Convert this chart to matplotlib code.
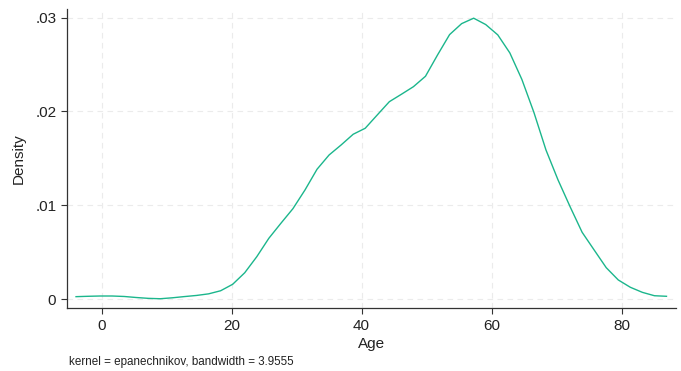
import numpy as np
import matplotlib
matplotlib.use("Agg")
import matplotlib.pyplot as plt

plt.rcParams['font.family'] = ['Liberation Sans', 'DejaVu Sans']

# kdensity evaluation grid (50 points) and estimated density
age_min, age_max = -3.92, 86.9
age = np.linspace(age_min, age_max, 50)
density = [0.00025, 0.00029, 0.00032, 0.00032, 0.00027, 0.00016, 0.00007, 0.00003,
           0.00013, 0.00026, 0.00038, 0.00055, 0.00088, 0.00157, 0.0028, 0.00451,
           0.00647, 0.00807, 0.00963, 0.01162, 0.01383, 0.01535, 0.01642, 0.01756,
           0.0182, 0.01962, 0.02103, 0.02182, 0.02263, 0.02374, 0.02601, 0.02818,
           0.02935, 0.02993, 0.02925, 0.02815, 0.02623, 0.0234, 0.01988, 0.01588,
           0.01269, 0.00984, 0.00711, 0.00522, 0.00334, 0.00203, 0.00125, 0.00071,
           0.00035, 0.00029]

xticks = [0, 20, 40, 60, 80]
yticks = [0, 0.01, 0.02, 0.03]
ytick_labels = ["0", ".01", ".02", ".03"]
note = "kernel = epanechnikov, bandwidth = 3.9555"

fig = plt.figure(figsize=(6.81, 3.71), dpi=100)
ax = fig.add_axes([0.098, 0.1685, 0.895, 0.8065])

ax.plot(age, density, color="#1bb68c", lw=1.0)

ax.set_xlim(-5.35, 88.4)
ax.set_ylim(-0.00101, 0.03088)
ax.set_xticks(xticks)
ax.set_yticks(yticks)
ax.set_yticklabels(ytick_labels)
ax.tick_params(axis="both", direction="out", length=4.5, width=0.8,
               labelsize=11, color="#333333", labelcolor="#222222")
ax.tick_params(axis="x", pad=3)
ax.tick_params(axis="y", pad=3)

ax.grid(True, color="#ebebeb", linestyle=(0, (5, 4)), lw=0.8)
ax.set_axisbelow(True)
for side in ["top", "right"]:
    ax.spines[side].set_visible(False)
for side in ["left", "bottom"]:
    ax.spines[side].set_color("#333333")
    ax.spines[side].set_linewidth(0.9)

ax.set_xlabel("Age", fontsize=11, color="#222222", labelpad=3)
ax.set_ylabel("Density", fontsize=11, color="#222222", labelpad=7)

fig.text(0.101, 0.016, note, fontsize=8.4, color="#222222")

fig.savefig("out.png", dpi=100)
